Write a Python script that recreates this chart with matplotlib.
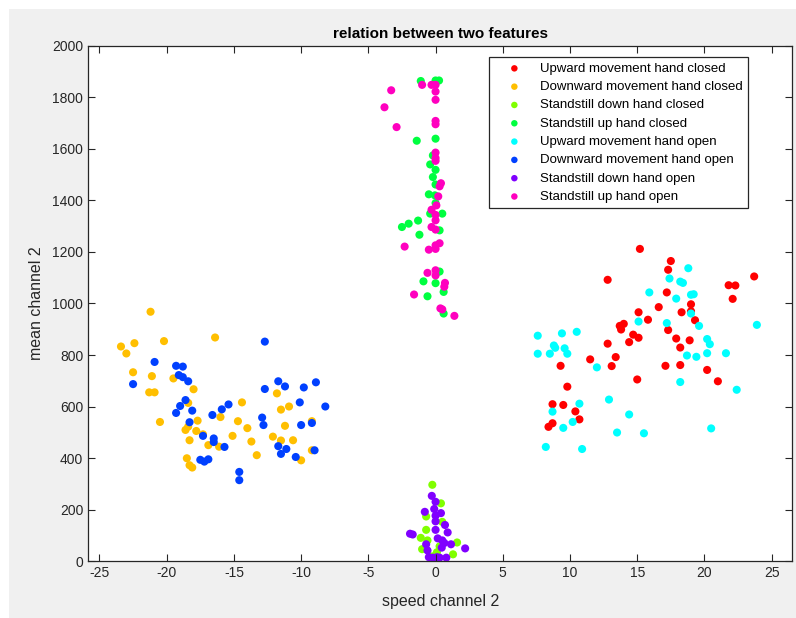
import matplotlib.pyplot as plt
from matplotlib.patches import Rectangle

plt.rcParams["font.family"] = ["Liberation Sans", "DejaVu Sans"]
plt.rcParams["axes.unicode_minus"] = False

# class names and hsv(8)-style colours
labels = [
    "Upward movement hand closed",
    "Downward movement hand closed",
    "Standstill down hand closed",
    "Standstill up hand closed",
    "Upward movement hand open",
    "Downward movement hand open",
    "Standstill down hand open",
    "Standstill up hand open",
]
colors = ["#ff0000", "#ffbf00", "#80ff00", "#00ff40",
          "#00ffff", "#0040ff", "#8000ff", "#ff00bf"]

# Upward movement hand closed
up_closed_x = [15.2, 17.5, 17.3, 12.8, 23.7, 21.8, 22.3, 22.1, 17.2, 19.0, 16.6, 18.3, 15.1,
               19.0, 19.3, 15.8, 13.7, 14.0, 13.8, 17.3, 14.7, 15.1, 17.9, 18.9, 14.4, 12.8,
               18.2, 13.4, 11.5, 13.1, 17.1, 18.2, 9.3, 20.2, 15.0, 21.0, 9.8, 8.7, 9.5,
               10.4, 10.7, 8.7, 8.4]
up_closed_y = [1212, 1165, 1131, 1092, 1105, 1071, 1070, 1018, 1043, 997, 986, 966, 966,
               970, 935, 937, 913, 921, 899, 897, 879, 867, 864, 857, 850, 844,
               829, 792, 783, 757, 758, 761, 758, 742, 705, 698, 677, 609, 606,
               581, 550, 535, 521]

# Downward movement hand closed
down_closed_x = [-23.4, -23.0, -22.4, -21.2, -20.2, -22.5, -21.1, -21.3, -20.9, -20.5, -19.5,
                 -18.0, -16.4, -18.4, -17.7, -18.6, -18.4, -17.8, -18.3, -17.3, -16.9, -18.5,
                 -18.3, -18.1, -16.0, -16.1, -15.1, -14.7, -14.4, -14.0, -13.7, -13.3, -12.1,
                 -11.8, -11.5, -11.5, -11.2, -10.9, -10.6, -10.0, -9.2, -9.2]
down_closed_y = [833, 806, 846, 968, 854, 733, 718, 655, 655, 540, 709,
                 667, 868, 614, 545, 509, 522, 505, 469, 492, 450, 399,
                 372, 363, 559, 444, 486, 543, 616, 516, 464, 411, 483,
                 651, 588, 468, 525, 600, 469, 391, 543, 430]

# Standstill down hand closed
still_down_closed_x = [-0.24, 0.4, -0.7, 0.5, -0.7, -1.1, -0.6, 1.6, -1.0, 0.3, 1.3, 0.1, -0.24]
still_down_closed_y = [296, 224, 173, 152, 121, 90, 80, 72, 46, 57, 26, 34, 18]

# Standstill up hand closed
still_up_closed_x = [-1.1, 0.0, 0.26, 0.0, -1.4, -0.2, -0.4, 0.0, -0.2, 0.0, -0.5, -0.05, 0.0,
                     -0.4, 0.5, -1.3, -2.0, -2.5, -1.2, 0.3, 0.3, -0.9, 0.0, -0.6, 0.6, 0.6]
still_up_closed_y = [1864, 1866, 1866, 1640, 1632, 1575, 1540, 1519, 1491, 1462, 1424, 1420, 1390,
                     1349, 1349, 1322, 1310, 1297, 1267, 1284, 1124, 1086, 1079, 1028, 1045, 961]

# Upward movement hand open
up_open_x = [18.8, 17.4, 18.2, 18.4, 15.9, 19.0, 19.2, 17.9, 19.0, 17.2, 15.1, 19.6, 23.9,
             20.2, 20.4, 7.6, 9.4, 10.5, 8.8, 8.9, 9.6, 7.6, 8.5, 9.8, 18.7, 19.4, 20.2,
             21.6, 12.0, 18.2, 22.4, 12.9, 10.7, 8.7, 10.2, 14.4, 9.5, 13.5, 15.5, 20.5,
             8.2, 10.9]
up_open_y = [1137, 1097, 1085, 1080, 1043, 1034, 1036, 1019, 961, 924, 930, 913, 917,
             862, 842, 875, 884, 890, 837, 828, 826, 805, 805, 805, 798, 793, 807,
             807, 752, 695, 665, 627, 611, 580, 540, 569, 517, 499, 496, 515,
             443, 435]

# Downward movement hand open
down_open_x = [-22.5, -20.9, -19.3, -18.8, -19.1, -18.8, -18.4, -18.6, -19.0, -19.3, -18.1,
               -18.3, -17.3, -17.5, -17.2, -16.9, -16.5, -16.5, -16.6, -15.9, -15.4, -15.7,
               -14.6, -14.6, -12.7, -12.7, -12.9, -12.8, -11.7, -11.2, -11.7, -11.5, -11.1,
               -10.4, -10.1, -9.8, -10.0, -9.2, -9.0, -8.9, -8.2]
down_open_y = [687, 773, 758, 755, 722, 714, 698, 625, 602, 575, 584,
               539, 486, 393, 386, 395, 476, 462, 567, 589, 608, 443,
               346, 314, 852, 668, 557, 528, 698, 678, 446, 416, 435,
               404, 616, 674, 528, 536, 430, 694, 600]

# Standstill down hand open
still_down_open_x = [-0.28, 0.0, -0.1, 0.4, -0.8, 0.0, 0.0, 0.7, 0.0, 0.9, -1.9, -1.7, -0.7,
                     0.16, 0.5, 0.65, 1.15, 2.2, -0.6, 0.46, -0.5, -0.2, 0.1, 0.3, 0.8]
still_down_open_y = [253, 230, 202, 186, 191, 176, 154, 140, 121, 111, 106, 103, 65,
                     88, 80, 70, 65, 49, 41, 52, 15, 13, 15, 13, 13]

# Standstill up hand open
still_up_open_x = [-1.0, -0.3, 0.0, 0.0, 0.0, -3.3, -3.8, -2.9, 0.0, 0.0, 0.0, 0.0, 0.0, 0.4,
                   0.3, 0.2, 0.06, -0.3, 0.0, 0.0, -0.3, 0.0, -2.3, -0.5, 0.0, 0.3, 0.0, -0.6,
                   0.0, 0.0, 0.7, 0.65, -1.6, 0.36, 0.5, 1.4]
still_up_open_y = [1849, 1849, 1849, 1823, 1791, 1828, 1762, 1685, 1709, 1696, 1586, 1565, 1554,
                   1467, 1455, 1416, 1381, 1364, 1344, 1323, 1297, 1287, 1221, 1209, 1212, 1234,
                   1226, 1119, 1129, 1109, 1080, 1065, 1035, 981, 977, 952]

groups = [
    (up_closed_x, up_closed_y),
    (down_closed_x, down_closed_y),
    (still_down_closed_x, still_down_closed_y),
    (still_up_closed_x, still_up_closed_y),
    (up_open_x, up_open_y),
    (down_open_x, down_open_y),
    (still_down_open_x, still_down_open_y),
    (still_up_open_x, still_up_open_y),
]

fig = plt.figure(figsize=(7.96, 6.18), dpi=100, facecolor="white")
# grey figure window background (white strip on top/left like the screenshot)
fig.patches.append(Rectangle((9 / 796, 0), 1, 1 - 9 / 618, transform=fig.transFigure,
                             facecolor="#f0f0f0", edgecolor="none", zorder=-10))

ax = fig.add_axes([0.1106, 0.0922, 0.8850, 0.8334])
ax.set_facecolor("white")

for (xs, ys), lab, col in zip(groups, labels, colors):
    ax.scatter(xs, ys, s=34, color=col, edgecolors="none", label=lab)

ax.set_xlim(-25.85, 26.55)
ax.set_ylim(0, 2000)
ax.set_xticks(range(-25, 30, 5))
ax.set_yticks(range(0, 2200, 200))

dark = "#262626"
for sp in ax.spines.values():
    sp.set_color(dark)
    sp.set_linewidth(0.9)
ax.tick_params(direction="in", length=5, width=0.8, colors=dark, labelsize=10,
               top=True, right=True, labelcolor=dark)

ax.set_title("relation between two features", fontsize=11, fontweight="bold",
             color="black", pad=6)
ax.set_xlabel("speed channel 2", fontsize=11.5, color=dark, labelpad=10)
ax.set_ylabel("mean channel 2", fontsize=11.5, color=dark, labelpad=6)

leg = ax.legend(loc="upper right", bbox_to_anchor=(0.937, 0.978), fontsize=9.5,
                frameon=True, fancybox=False, framealpha=1, edgecolor=dark,
                handlelength=3.1, handletextpad=0.4, labelspacing=0.46,
                borderpad=0.4, markerscale=0.8, borderaxespad=0)
leg.get_frame().set_linewidth(0.9)

fig.savefig("out.png", dpi=100, facecolor=fig.get_facecolor())
